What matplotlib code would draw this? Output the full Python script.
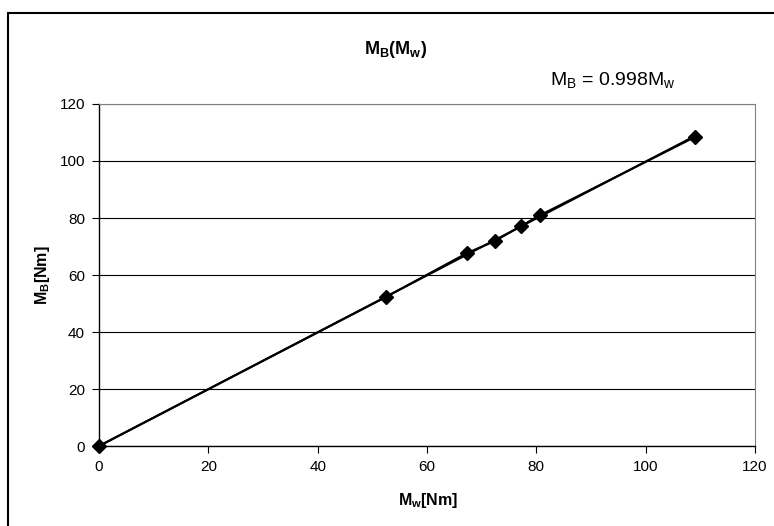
import matplotlib.pyplot as plt
from matplotlib.patches import Rectangle

plt.rcParams['font.family'] = ['Liberation Sans', 'DejaVu Sans']
plt.rcParams['mathtext.fontset'] = 'custom'
plt.rcParams['mathtext.rm'] = 'Liberation Sans'
plt.rcParams['mathtext.it'] = 'Liberation Sans:italic'
plt.rcParams['mathtext.bf'] = 'Liberation Sans:bold'

# measured torque pairs
mw = [0.0, 52.5, 67.3, 72.4, 77.2, 80.7, 109.0]
mb = [0.0, 52.3, 67.7, 71.9, 77.2, 81.0, 108.4]
slope = 0.998
xticks = [0, 20, 40, 60, 80, 100, 120]
yticks = [0, 20, 40, 60, 80, 100, 120]

fig = plt.figure(figsize=(7.74, 5.26), dpi=100)
ax = fig.add_axes([0.1279, 0.152, 0.8476, 0.6503])

# outer chart frame
fig.patches.append(Rectangle((8 / 774, -0.05), 1.1, 1 - 13 / 526 + 0.05,
                             transform=fig.transFigure, fill=False,
                             edgecolor='black', linewidth=1.5))

ax.set_xlim(0, 120)
ax.set_ylim(0, 120)
ax.set_xticks(xticks)
ax.set_yticks(yticks)
ax.grid(axis='y', color='black', linewidth=0.8)
ax.set_axisbelow(True)

for side in ['top', 'right']:
    ax.spines[side].set_color('#808080')
for side in ['left', 'bottom']:
    ax.spines[side].set_color('black')
    ax.spines[side].set_linewidth(1.0)
ax.tick_params(direction='out', length=5, width=0.8, labelsize=11, pad=5)

# trend line
xs = [0, max(mw)]
ax.plot(xs, [slope * v for v in xs], color='black', linewidth=1.5, zorder=2)
ax.plot(mw, mb, color='black', linewidth=1.5, marker='D', markersize=7,
        clip_on=False, zorder=3)

fig.text(396 / 774, 1 - 50 / 526, r'$\mathbf{M_B(M_w)}$', ha='center', va='center',
         fontsize=13)
fig.text(613 / 774, 1 - 80 / 526, r'$\mathrm{M_B}$ = 0.998$\mathrm{M_w}$',
         ha='center', va='center', fontsize=14)
fig.text(428 / 774, 1 - 501 / 526, r'$\mathbf{M_w[Nm]}$', ha='center', va='center',
         fontsize=11.5)
fig.text(42 / 774, 1 - 275 / 526, r'$\mathbf{M_B[Nm]}$', ha='center', va='center',
         rotation=90, fontsize=11.5)

plt.savefig('out.png', dpi=100)
